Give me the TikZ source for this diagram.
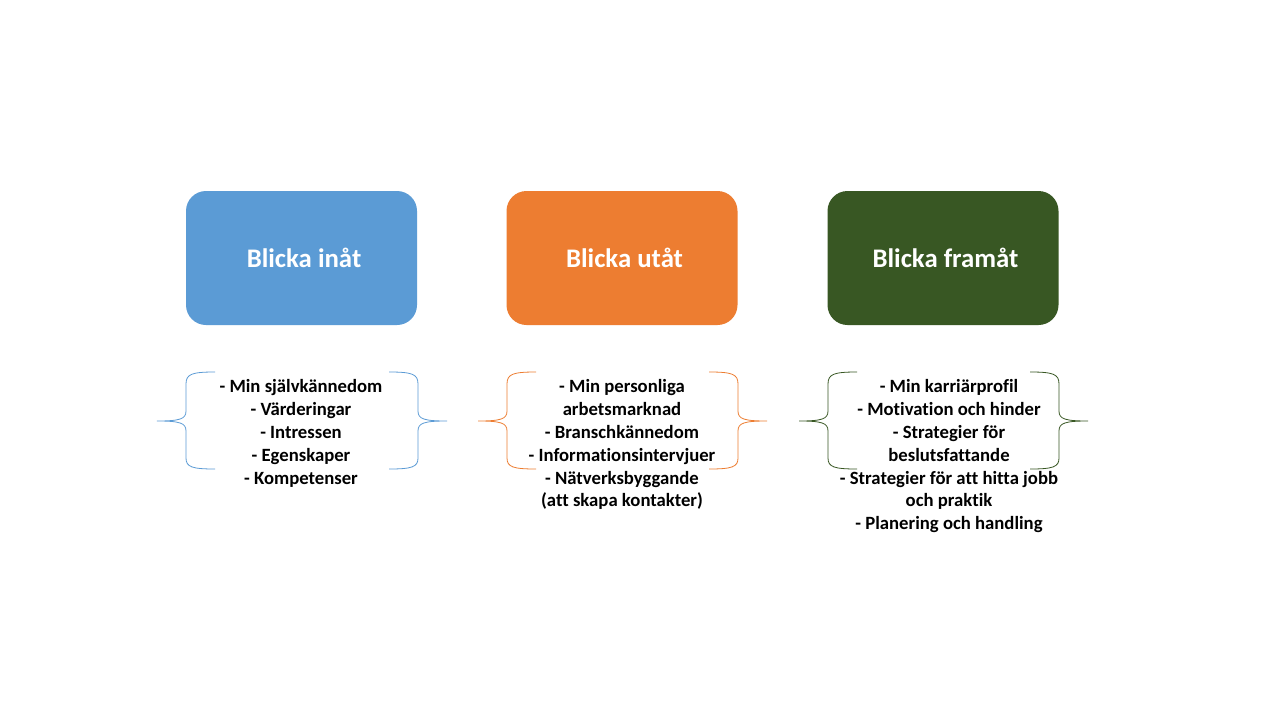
\documentclass[tikz,border=0pt]{standalone}
\usepackage{fontspec}
\setmainfont{Carlito}[Ligatures=NoCommon]
\definecolor{cblue}{HTML}{5B9BD5}
\definecolor{corange}{HTML}{ED7D31}
\definecolor{cgreen}{HTML}{385723}
\begin{document}
\begin{tikzpicture}[x=1pt,y=-1pt,
  titlebox/.style={rounded corners=20pt, minimum width=231pt, minimum height=134pt, inner sep=0pt},
  titletext/.style={text=white, inner sep=0pt, font=\fontsize{26.8}{30}\selectfont\bfseries},
  listtext/.style={align=center, font=\fontsize{18.7}{22.8}\selectfont\bfseries, inner sep=0pt, anchor=north},
  bracestyle/.style={line width=0.8pt}]
\useasboundingbox (0,0) rectangle (1280,720);
\fill[white] (0,0) rectangle (1280,720);
\node[titlebox, fill=cblue] (b1) at (301.5,258) {};
\node[titlebox, fill=corange] (b2) at (622,258) {};
\node[titlebox, fill=cgreen] (b3) at (943,258) {};
\node[titletext] (l1) at ([xshift=2.5pt]b1.center) {Blicka inåt};
\node[titletext] (l2) at ([xshift=2.5pt]b2.center) {Blicka utåt};
\node[titletext] (l3) at ([xshift=2.5pt]b3.center) {Blicka framåt};

\node[listtext] (t1) at (301,379.5) {- Min självkännedom\\- Värderingar\\- Intressen\\- Egenskaper\\- Kompetenser};
\node[listtext] (t2) at (622,379.5) {- Min personliga\\arbetsmarknad\\- Branschkännedom\\- Informationsintervjuer\\- Nätverksbyggande\\(att skapa kontakter)};
\node[listtext] (t3) at (949,379.5) {- Min karriärprofil\\- Motivation och hinder\\- Strategier för\\beslutsfattande\\- Strategier för att hitta jobb\\och praktik\\- Planering och handling};

\newcommand{\myLbrace}[2]{% #1 vertical x, #2 colour
  \draw[bracestyle,#2] ({#1+29},372) .. controls ({#1+6},372) and (#1,374) .. (#1,384)
    -- (#1,411) .. controls (#1,419) and ({#1-6},421) .. ({#1-29},421)
    .. controls ({#1-6},421) and (#1,423) .. (#1,431)
    -- (#1,458) .. controls (#1,467) and ({#1+6},469) .. ({#1+29},469);}
\newcommand{\myRbrace}[2]{%
  \draw[bracestyle,#2] ({#1-29},372) .. controls ({#1-6},372) and (#1,374) .. (#1,384)
    -- (#1,411) .. controls (#1,419) and ({#1+6},421) .. ({#1+29},421)
    .. controls ({#1+6},421) and (#1,423) .. (#1,431)
    -- (#1,458) .. controls (#1,467) and ({#1-6},469) .. ({#1-29},469);}
\myLbrace{186}{cblue}
\myRbrace{418}{cblue}
\myLbrace{507}{corange}
\myRbrace{738}{corange}
\myLbrace{828}{cgreen}
\myRbrace{1059}{cgreen}
\end{tikzpicture}
\end{document}
